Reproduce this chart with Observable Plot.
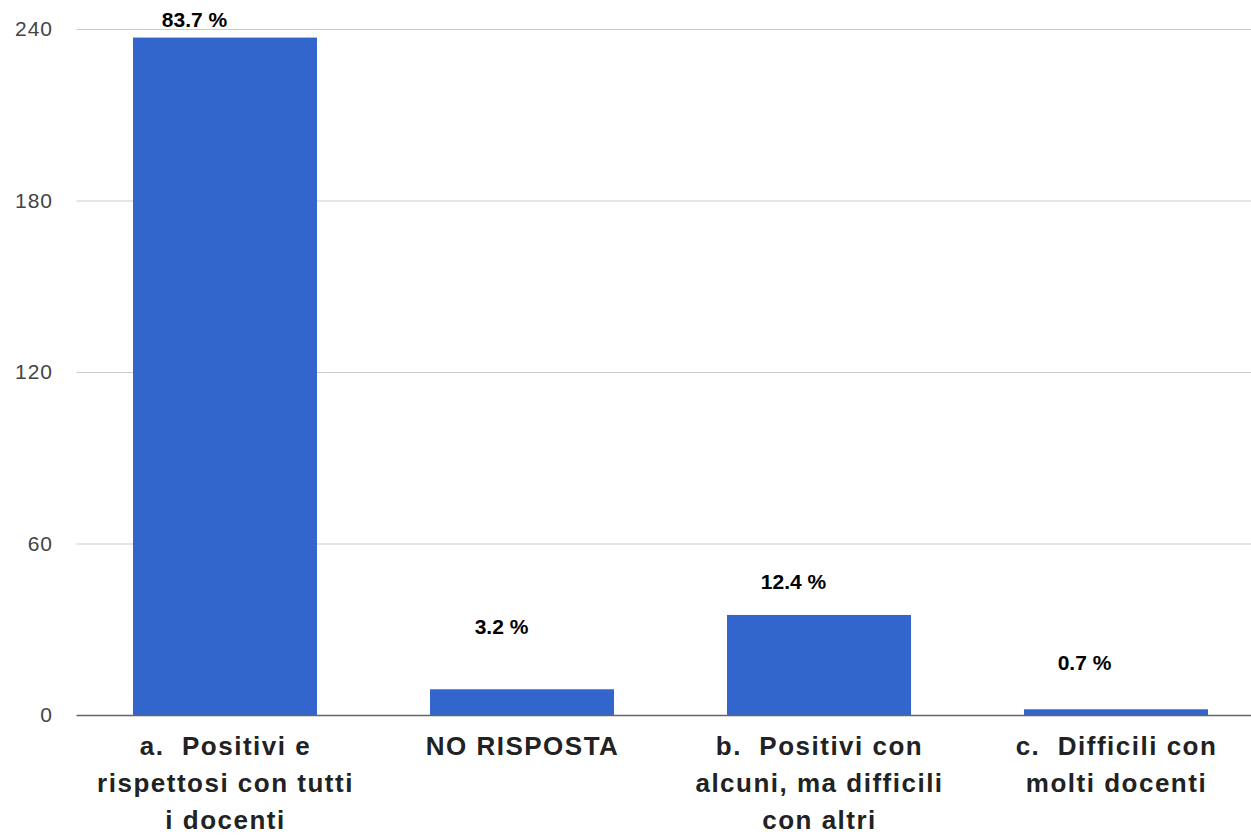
<!DOCTYPE html>
<html>
<head>
<meta charset="utf-8">
<script src="https://cdn.jsdelivr.net/npm/d3@7"></script>
<script src="https://cdn.jsdelivr.net/npm/@observablehq/plot@0.6"></script>
<style>
  html, body { margin: 0; padding: 0; background: #fff; overflow: hidden; width: 1251px; height: 835px; }
  #chart { width: 1251px; height: 835px; overflow: hidden; }
  #chart svg { max-width: none; }
  #chart text { white-space: pre; }
  #chart g.xaxis text { letter-spacing: 1.5px; }
  #chart g.yaxis text { letter-spacing: 1px; }
</style>
</head>
<body>
<div id="chart"></div>
<script>
const categories = [
  "a.  Positivi e\nrispettosi con tutti\ni docenti",
  "NO RISPOSTA",
  "b.  Positivi con\nalcuni, ma difficili\ncon altri",
  "c.  Difficili con\nmolti docenti"
];
const counts = [237, 9, 35, 2];
const percentLabels = ["83.7 %", "3.2 %", "12.4 %", "0.7 %"];
const yTicks = [0, 60, 120, 180, 240];

const data = categories.map((c, i) => ({cat: c, value: counts[i], label: percentLabels[i]}));
// pixel offsets of each percentage label relative to the top-centre of its bar
const labelDx = [-31, -21, -26, -32];
const labelDy = [-18, -63, -33, -47];

const font = "Arial, 'Liberation Sans', sans-serif";

const chart = Plot.plot({
  width: 1264.5,
  height: 835,
  marginTop: 29,
  marginBottom: 120,
  marginLeft: 76.5,
  marginRight: 0,
  style: {fontFamily: font, background: "#fff", maxWidth: "none"},
  x: {domain: categories, paddingInner: 0.38, paddingOuter: 0.19, label: null},
  y: {domain: [0, 240], ticks: yTicks, label: null},
  marks: [
    Plot.ruleY(yTicks.filter(d => d > 0), {stroke: "#cccccc", strokeWidth: 1}),
    Plot.barY(data, {x: "cat", y: "value", fill: "#3366cc"}),
    Plot.ruleY([0], {stroke: "#666666", strokeWidth: 1.5}),
    Plot.axisY({ticks: yTicks, tickSize: 0, tickPadding: 24, fontSize: 21, fill: "#444444", label: null, className: "yaxis"}),
    Plot.axisX({tickSize: 0, tickPadding: 13, fontSize: 26, fontWeight: "bold", fill: "#222222", lineHeight: 1.43, label: null, className: "xaxis"}),
    ...data.map((d, i) => Plot.text([d], {
      x: "cat", y: "value", text: "label", dx: labelDx[i], dy: labelDy[i],
      fontSize: 21, fontWeight: "bold", fill: "#000000", lineAnchor: "middle"
    }))
  ]
});
document.getElementById("chart").appendChild(chart);
</script>
</body>
</html>
